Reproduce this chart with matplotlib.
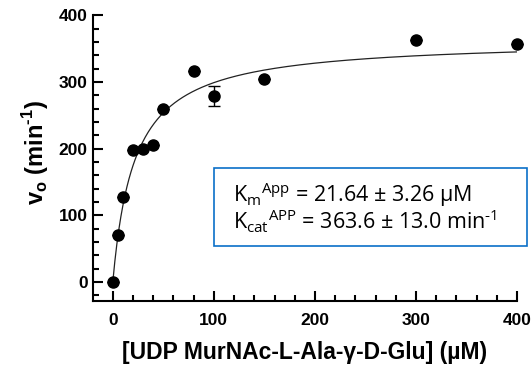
import numpy as np
import matplotlib
matplotlib.use("Agg")
import matplotlib.pyplot as plt
from matplotlib.patches import Rectangle

plt.rcParams['font.family'] = ['Liberation Sans', 'DejaVu Sans']
plt.rcParams['mathtext.fontset'] = 'custom'
plt.rcParams['mathtext.rm'] = 'Liberation Sans'
plt.rcParams['mathtext.bf'] = 'Liberation Sans:bold'
plt.rcParams['mathtext.sf'] = 'Open Sans'

# substrate concentration (uM) and initial rates (1/min)
conc = [0, 5, 10, 20, 30, 40, 50, 80, 100, 150, 300, 400]
rate = [0, 71, 128, 198, 200, 205, 259, 316, 279, 305, 363, 357]
rate_err = [0, 0, 0, 0, 0, 0, 0, 0, 15, 0, 0, 0]

# Michaelis-Menten fit parameters
km = 21.64
km_err = 3.26
kcat = 363.6
kcat_err = 13.0

HYPH = '\u2010'

fig = plt.figure(figsize=(5.31, 3.66), dpi=100)
ax = fig.add_axes([0.1753, 0.1765, 0.7985, 0.782])

xfit = np.linspace(0, 400, 400)
ax.plot(xfit, kcat * xfit / (km + xfit), color='#222222', lw=0.9, zorder=2)
ax.errorbar(conc, rate, yerr=rate_err, fmt='o', color='black', ms=8,
            elinewidth=1.0, capsize=4, capthick=1.0, clip_on=False, zorder=3)

ax.set_xlim(-19.5, 400)
ax.set_ylim(-29, 400)
ax.set_xticks([0, 100, 200, 300, 400])
ax.set_yticks([0, 100, 200, 300, 400])
ax.set_xticks(np.arange(0, 401, 20), minor=True)
ax.set_yticks(np.arange(-20, 401, 20), minor=True)

for side in ['top', 'right']:
    ax.spines[side].set_visible(False)
for side in ['left', 'bottom']:
    ax.spines[side].set_linewidth(1.5)

ax.tick_params(which='major', direction='in', length=7.5, width=1.5,
               labelsize=12.5)
ax.tick_params(which='minor', direction='in', length=4, width=1.5)
ax.tick_params(axis='x', which='major', pad=8.5)
ax.tick_params(axis='y', which='major', pad=4)
for lab in ax.get_xticklabels() + ax.get_yticklabels():
    lab.set_fontweight('bold')

ax.set_xlabel('[UDP MurNAc-L-Ala-\u03b3-D-Glu] (\u00b5M)', fontsize=16.5,
              fontweight='bold', va='center')
ax.xaxis.set_label_coords(0.499, -0.177)
ax.set_ylabel(r'$\mathbf{v}_\mathbf{o}$ (min$^{\mathbf{' + HYPH + r'1}}$)',
              fontsize=17, fontweight='bold', va='center')
ax.yaxis.set_label_coords(-0.1366, 0.52)

# parameter box
fig.add_artist(Rectangle((0.4038, 0.3273), 0.5893, 0.2148,
                         transform=fig.transFigure, fill=False,
                         edgecolor='#0a70c8', lw=1.2))
fig.text(0.4388, 0.468,
         r'K$_\mathsf{m}$$^\mathsf{App}$' + f' = {km:.2f} \u00b1 {km_err:.2f} \u00b5M',
         family='Open Sans', fontsize=15.5, va='center', ha='left')
fig.text(0.4388, 0.394,
         r'K$_\mathsf{cat}$$^\mathsf{APP}$' + f' = {kcat:.1f} \u00b1 {kcat_err:.1f} min'
         + r'$^\mathsf{' + HYPH + r'1}$',
         family='Open Sans', fontsize=15.5, va='center', ha='left')

fig.savefig('out.png', dpi=100)
